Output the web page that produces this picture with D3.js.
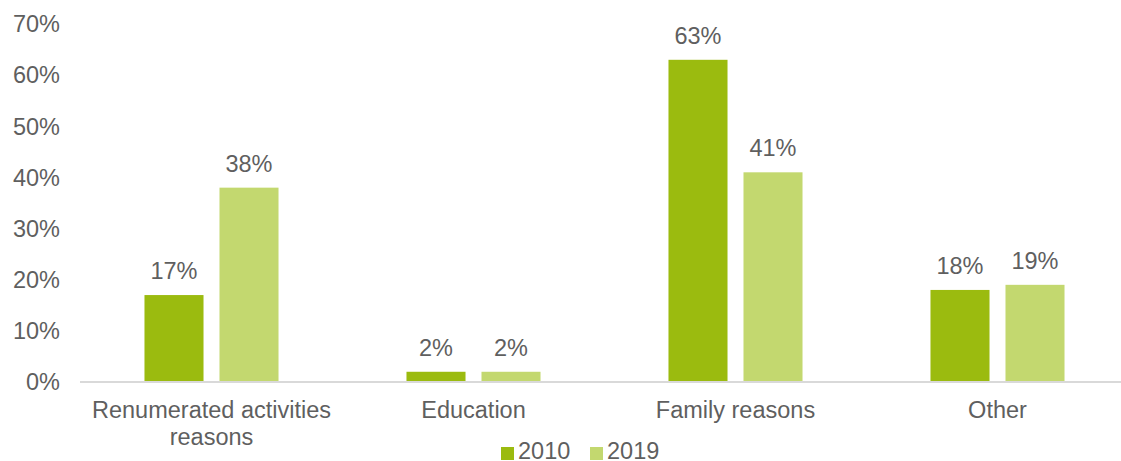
<!DOCTYPE html>
<html><head><meta charset="utf-8">
<script src="https://cdn.jsdelivr.net/npm/d3@7"></script>
<style>body{margin:0;background:#fff;overflow:hidden}svg text{font-family:"Liberation Sans",Arial,sans-serif;fill:#5f5f5f}</style>
</head><body><svg id="c" width="1121" height="461"></svg>
<script>
const categories = [["Renumerated activities","reasons"],["Education"],["Family reasons"],["Other"]];
const series = ["2010","2019"];
const values2010 = [17, 2, 63, 18];
const values2019 = [38, 2, 41, 19];
const yTicks = [0,10,20,30,40,50,60,70];
const colors = ["#9BBB0F","#C3D86F"];

const svg = d3.select("#c");
const catKeys = categories.map(c=>c.join(" "));
const x0 = d3.scaleBand().domain(catKeys).range([80.5,1128.5]).padding(0);
const x1 = d3.scaleBand().domain(series).range([0,x0.bandwidth()]).paddingInner(0.213).paddingOuter(0.853);
const y = d3.scaleLinear().domain([0,70]).range([382,24]);
const fs = 23.5;

// y tick labels
svg.append("g").selectAll("text").data(yTicks).join("text")
  .attr("x",60).attr("y",d=>y(d)).attr("dy","0.35em").attr("text-anchor","end")
  .attr("font-size",fs).text(d=>d+"%");

const data = catKeys.map((k,i)=>({k, vals:[values2010[i],values2019[i]]}));
const g = svg.append("g").selectAll("g").data(data).join("g").attr("transform",d=>`translate(${x0(d.k)},0)`);
g.selectAll("rect").data(d=>d.vals.map((v,j)=>({s:series[j],v,j}))).join("rect")
  .attr("x",d=>x1(d.s)).attr("width",x1.bandwidth())
  .attr("y",d=>y(d.v)).attr("height",d=>y(0)-y(d.v)).attr("fill",d=>colors[d.j]);
g.selectAll("text.v").data(d=>d.vals.map((v,j)=>({s:series[j],v,j}))).join("text").attr("class","v")
  .attr("x",d=>x1(d.s)+x1.bandwidth()/2).attr("y",d=>y(d.v)-16).attr("text-anchor","middle")
  .attr("font-size",fs).text(d=>d.v+"%");

// axis line
svg.append("line").attr("x1",80).attr("x2",1121).attr("y1",y(0)).attr("y2",y(0))
  .attr("stroke","#D9D9D9").attr("stroke-width",2);

// category labels
categories.forEach((c,i)=>{
  const cx = x0(catKeys[i])+x0.bandwidth()/2;
  const t = svg.append("text").attr("x",cx).attr("y",418)
    .attr("text-anchor","middle").attr("font-size",fs);
  c.forEach((line,li)=>t.append("tspan").attr("x",cx).attr("dy",li?27:0).text(line));
});

// legend
const leg = svg.append("g");
const lx = [501, 590];
series.forEach((s,i)=>{
  leg.append("rect").attr("x",lx[i]).attr("y",447).attr("width",13).attr("height",13).attr("fill",colors[i]);
  leg.append("text").attr("x",lx[i]+17).attr("y",459).attr("font-size",fs).text(s);
});
</script></body></html>
